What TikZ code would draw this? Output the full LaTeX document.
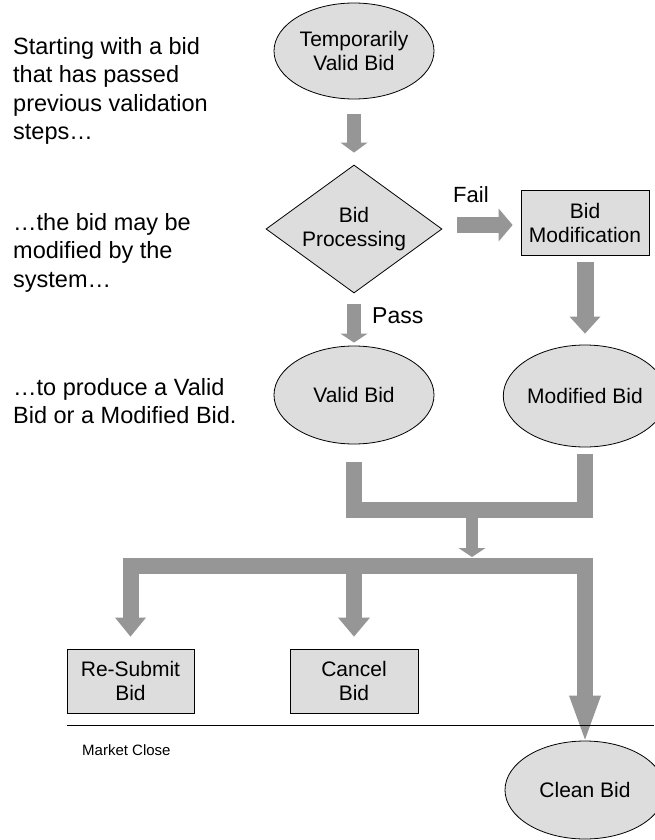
\documentclass[tikz,border=0pt]{standalone}
\usepackage{fontspec}
\setmainfont{Liberation Sans}
\usetikzlibrary{shapes.geometric,arrows.meta}
\definecolor{bidfill}{HTML}{DDDDDD}
\definecolor{bidarrow}{HTML}{969696}

\begin{document}
\begin{tikzpicture}
[x=1pt,y=-1pt,
 every node/.style={font=\fontsize{21}{24}\selectfont,align=center,inner sep=0pt},
 bidstate/.style={ellipse,draw,line width=0.8pt,fill=bidfill,minimum width=160pt},
 bidtask/.style={rectangle,draw,line width=0.8pt,fill=bidfill,minimum width=128pt,minimum height=65pt},
 bidcheck/.style={diamond,draw,line width=0.8pt,fill=bidfill,aspect=1.375,minimum width=176pt,minimum height=128pt},
 note/.style={align=left,anchor=north west,font=\fontsize{23.5}{28.5}\selectfont},
 flowarrow/.style n args={3}{draw=bidarrow,line width=#1,-{Triangle[width=#2,length=#3,line width=0pt]}},
 flowbar/.style={draw=bidarrow,line width=16pt,line join=miter}]
\useasboundingbox (0,0) rectangle (654,840);

% left hand notes
\node[note] (start) at (13,37) {Starting with a bid\\that has passed\\previous validation\\steps…};
\node[note] (modnote) at (13,213) {…the bid may be\\modified by the\\system…};
\node[note] (endnote) at (13,378) {…to produce a Valid\\Bid or a Modified Bid.};

% flow
\node[bidstate,minimum height=96pt] (tvb) at (354,51) {Temporarily\\Valid Bid};
\node[bidcheck] (proc) at (354,229) {Bid\\Processing};
\node[bidtask] (mod) at (585,223) {Bid\\Modification};
\node[bidstate,minimum height=98pt] (vb) at (354,395) {Valid Bid};
\node[bidstate,minimum height=102pt] (mb) at (585,396) {Modified Bid};
\node[bidtask,minimum width=127pt,minimum height=64pt] (resub) at (130.5,681) {Re-Submit\\Bid};
\node[bidtask,minimum height=64pt] (cancel) at (354,681) {Cancel\\Bid};
\node[bidstate,minimum height=98pt] (clean) at (585,790) {Clean Bid};

\node[anchor=base west,font=\fontsize{22}{24}\selectfont] (fail) at (453,202) {Fail};
\node[anchor=base west,font=\fontsize{23}{24}\selectfont] (pass) at (372,323) {Pass};

\draw[flowarrow={14pt}{27pt}{10pt},shorten <=15pt,shorten >=12pt] (tvb) -- (proc);
\draw[flowarrow={14pt}{27pt}{9pt},shorten <=11pt,shorten >=3pt] (proc) -- (vb);
\draw[flowarrow={16pt}{33pt}{14pt},shorten <=15pt,shorten >=8pt]
  ([yshift=4pt]proc.east) -- ([yshift=4pt]proc.east -| mod.west);
\draw[flowarrow={17pt}{31pt}{17pt},shorten <=6pt,shorten >=11pt] (mod) -- (mb);

% merge and split
\coordinate (join) at (472,510);
\coordinate (split) at (472,566);
\draw[flowbar] ([yshift=-18pt]vb.south) |- (join) -| ([yshift=-7pt]mb.south);
\draw[flowarrow={12pt}{27pt}{9pt},shorten <=8pt,shorten >=9pt] (join) -- (split);
\draw[flowbar,arrows={Triangle[width=31pt,length=19pt,line width=0pt]-Triangle[width=32pt,length=44pt,line width=0pt]}]
  ([yshift=12pt]resub.north) |- (split) -| ([yshift=1pt]clean.north);
\draw[flowarrow={16pt}{32pt}{19pt},shorten >=12pt] (split -| cancel.north) -- (cancel.north);

% market close
\draw[line width=0.8pt] (67,725) -- (654,725);
\node[anchor=west,font=\fontsize{15}{18}\selectfont] (close) at (82,750) {Market Close};
\end{tikzpicture}
\end{document}
